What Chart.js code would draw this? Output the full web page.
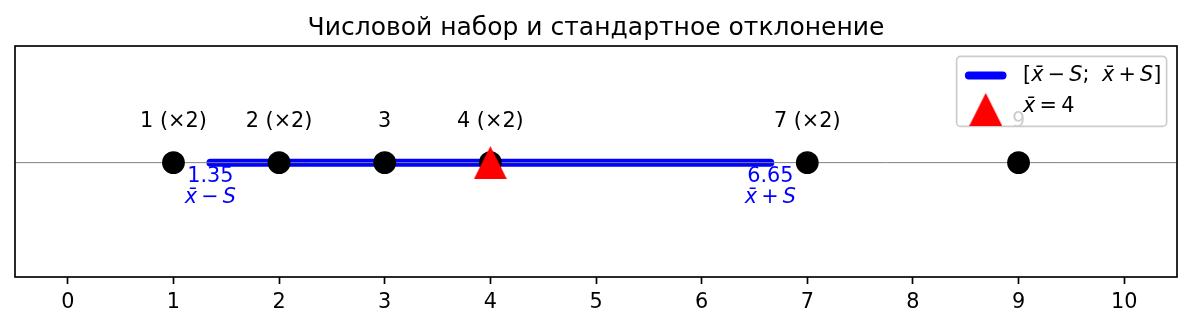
<!DOCTYPE html>
<html>
<head>
<meta charset="utf-8">
<script src="https://cdn.jsdelivr.net/npm/chart.js"></script>
<style>
  body { margin: 0; background: #ffffff; }
</style>
</head>
<body>
<canvas id="canvas" width="1192" height="328"></canvas>
<script>
var titulo = 'Числовой набор и стандартное отклонение';
var valores = [1, 2, 3, 4, 7, 9];
var rotulos = ['1 (×2)', '2 (×2)', '3', '4 (×2)', '7 (×2)', '9'];
var media = [4];
var intervalo = [1.35, 6.65];
var rotulosIntervalo = ['1.35', '6.65'];
var ticksX = [0, 1, 2, 3, 4, 5, 6, 7, 8, 9, 10];
var limitesX = [-0.5, 10.5];
var limitesY = [-1, 1.02];

var FONTE = '"DejaVu Sans"';
var TAM = 20.8;
var XB = 'x\u0304';

function criaTriangulo(tam, cor){
  var c = document.createElement('canvas');
  c.width = tam; c.height = tam;
  var g = c.getContext('2d');
  g.fillStyle = cor;
  g.beginPath();
  g.moveTo(tam / 2, 0);
  g.lineTo(tam, tam);
  g.lineTo(0, tam);
  g.closePath();
  g.fill();
  return c;
}
var triangulo = criaTriangulo(33, '#ff0000');

// texto com partes em italico (tipo mathtext)
function textoMat(ctx, partes, x, y, align){
  var total = 0, larg = [];
  for (var p of partes){
    ctx.font = (p[1] ? 'italic ' : '') + TAM + 'px ' + FONTE;
    var w = ctx.measureText(p[0]).width;
    larg.push(w); total += w;
  }
  var xi = align == 'center' ? x - total / 2 : x;
  ctx.textAlign = 'left';
  ctx.textBaseline = 'middle';
  for (var i = 0; i < partes.length; i++){
    ctx.font = (partes[i][1] ? 'italic ' : '') + TAM + 'px ' + FONTE;
    ctx.fillText(partes[i][0], xi, y);
    xi += larg[i];
  }
}

var menosS = [[XB, true], ['\u2009\u2212\u2009', false], ['S', true]];
var maisS = [[XB, true], ['\u2009+\u2009', false], ['S', true]];
var legenda1 = [['[', false], [XB, true], ['\u2009\u2212\u2009', false], ['S', true], [';\u2009\u2009\u2009', false], [XB, true], ['\u2009+\u2009', false], ['S', true], [']', false]];
var legenda2 = [[XB, true], ['\u2009=\u2009' + media[0], false]];

var extras = {
  id: 'extras',
  afterDatasetsDraw: function(chart){
    var ctx = chart.ctx, sx = chart.scales.x, sy = chart.scales.y;
    var y0 = sy.getPixelForValue(0);
    ctx.save();
    ctx.fillStyle = '#000000';
    ctx.font = TAM + 'px ' + FONTE;
    ctx.textAlign = 'center';
    ctx.textBaseline = 'middle';
    for (var i = 0; i < valores.length; i++){
      ctx.fillText(rotulos[i], sx.getPixelForValue(valores[i]), y0 - 41);
    }
    ctx.fillStyle = '#0000ff';
    for (var j = 0; j < intervalo.length; j++){
      var xp = sx.getPixelForValue(intervalo[j]);
      ctx.font = TAM + 'px ' + FONTE;
      ctx.textAlign = 'center';
      ctx.fillText(rotulosIntervalo[j], xp, y0 + 14);
      textoMat(ctx, j == 0 ? menosS : maisS, xp, y0 + 35, 'center');
    }
    ctx.restore();
  },
  afterDraw: function(chart){
    var ctx = chart.ctx, a = chart.chartArea;
    ctx.save();
    ctx.strokeStyle = '#000000';
    ctx.lineWidth = 1.67;
    ctx.strokeRect(a.left, a.top, a.right - a.left, a.bottom - a.top);

    // legenda
    var w = 210, h = 70;
    var dir = a.right - 10.4, topo = a.top + 10.4, esq = dir - w;
    ctx.beginPath();
    ctx.roundRect(esq, topo, w, h, 4);
    ctx.fillStyle = 'rgba(255,255,255,0.8)';
    ctx.fill();
    ctx.strokeStyle = '#cccccc';
    ctx.lineWidth = 1.67;
    ctx.stroke();
    var l1 = topo + 19, l2 = topo + 51;
    var hx = esq + 8.3;
    ctx.strokeStyle = '#0000ff';
    ctx.lineWidth = 8;
    ctx.lineCap = 'round';
    ctx.beginPath();
    ctx.moveTo(hx + 4, l1);
    ctx.lineTo(hx + 41.6 - 4, l1);
    ctx.stroke();
    ctx.drawImage(triangulo, hx + 20.8 - 16.5, l2 + 2 - 16.5);
    ctx.fillStyle = '#000000';
    textoMat(ctx, legenda1, hx + 41.6 + 16.6, l1, 'left');
    textoMat(ctx, legenda2, hx + 41.6 + 16.6, l2 - 1, 'left');
    ctx.restore();
  }
};

var ctx = document.getElementById('canvas').getContext('2d');
window.grafico = new Chart(ctx, {
  type: 'scatter',
  data: {
    datasets: [{
      label: 'media',
      data: media.map(function(v){ return {x: v, y: 0}; }),
      pointStyle: triangulo,
      pointRadius: 16,
      order: 0
    }, {
      label: 'valores',
      data: valores.map(function(v){ return {x: v, y: 0}; }),
      backgroundColor: '#000000',
      borderColor: '#000000',
      borderWidth: 0,
      pointRadius: 11.4,
      order: 1
    }, {
      label: 'eixo',
      data: limitesX.map(function(v){ return {x: v, y: 0}; }),
      showLine: true,
      borderColor: '#808080',
      borderWidth: 1,
      pointRadius: 0,
      order: 2
    }, {
      label: 'intervalo',
      data: intervalo.map(function(v){ return {x: v, y: 0}; }),
      showLine: true,
      borderColor: '#0000ff',
      borderWidth: 8,
      borderCapStyle: 'round',
      pointRadius: 0,
      order: 3
    }]
  },
  options: {
    responsive: false,
    animation: false,
    devicePixelRatio: 1,
    events: [],
    layout: { autoPadding: false, padding: { left: 15, right: 15, top: 0, bottom: 0 } },
    plugins: {
      legend: { display: false },
      tooltip: { enabled: false },
      title: {
        display: true,
        text: titulo,
        color: '#000000',
        font: { family: FONTE, size: 25, weight: 'normal' },
        padding: { top: 13, bottom: 3 }
      }
    },
    scales: {
      x: {
        type: 'linear',
        min: limitesX[0],
        max: limitesX[1],
        afterBuildTicks: function(axis){
          axis.ticks = ticksX.map(function(v){ return {value: v}; });
        },
        afterFit: function(axis){ axis.height = 51; },
        border: { display: false },
        grid: {
          drawOnChartArea: false,
          drawTicks: true,
          tickLength: 7,
          tickWidth: 1.67,
          tickColor: '#000000'
        },
        ticks: {
          color: '#000000',
          font: { family: FONTE, size: TAM },
          padding: 6,
          maxRotation: 0,
          callback: function(v){ return v; }
        }
      },
      y: {
        display: false,
        min: limitesY[0],
        max: limitesY[1]
      }
    }
  },
  plugins: [extras]
});
</script>
</body>
</html>
